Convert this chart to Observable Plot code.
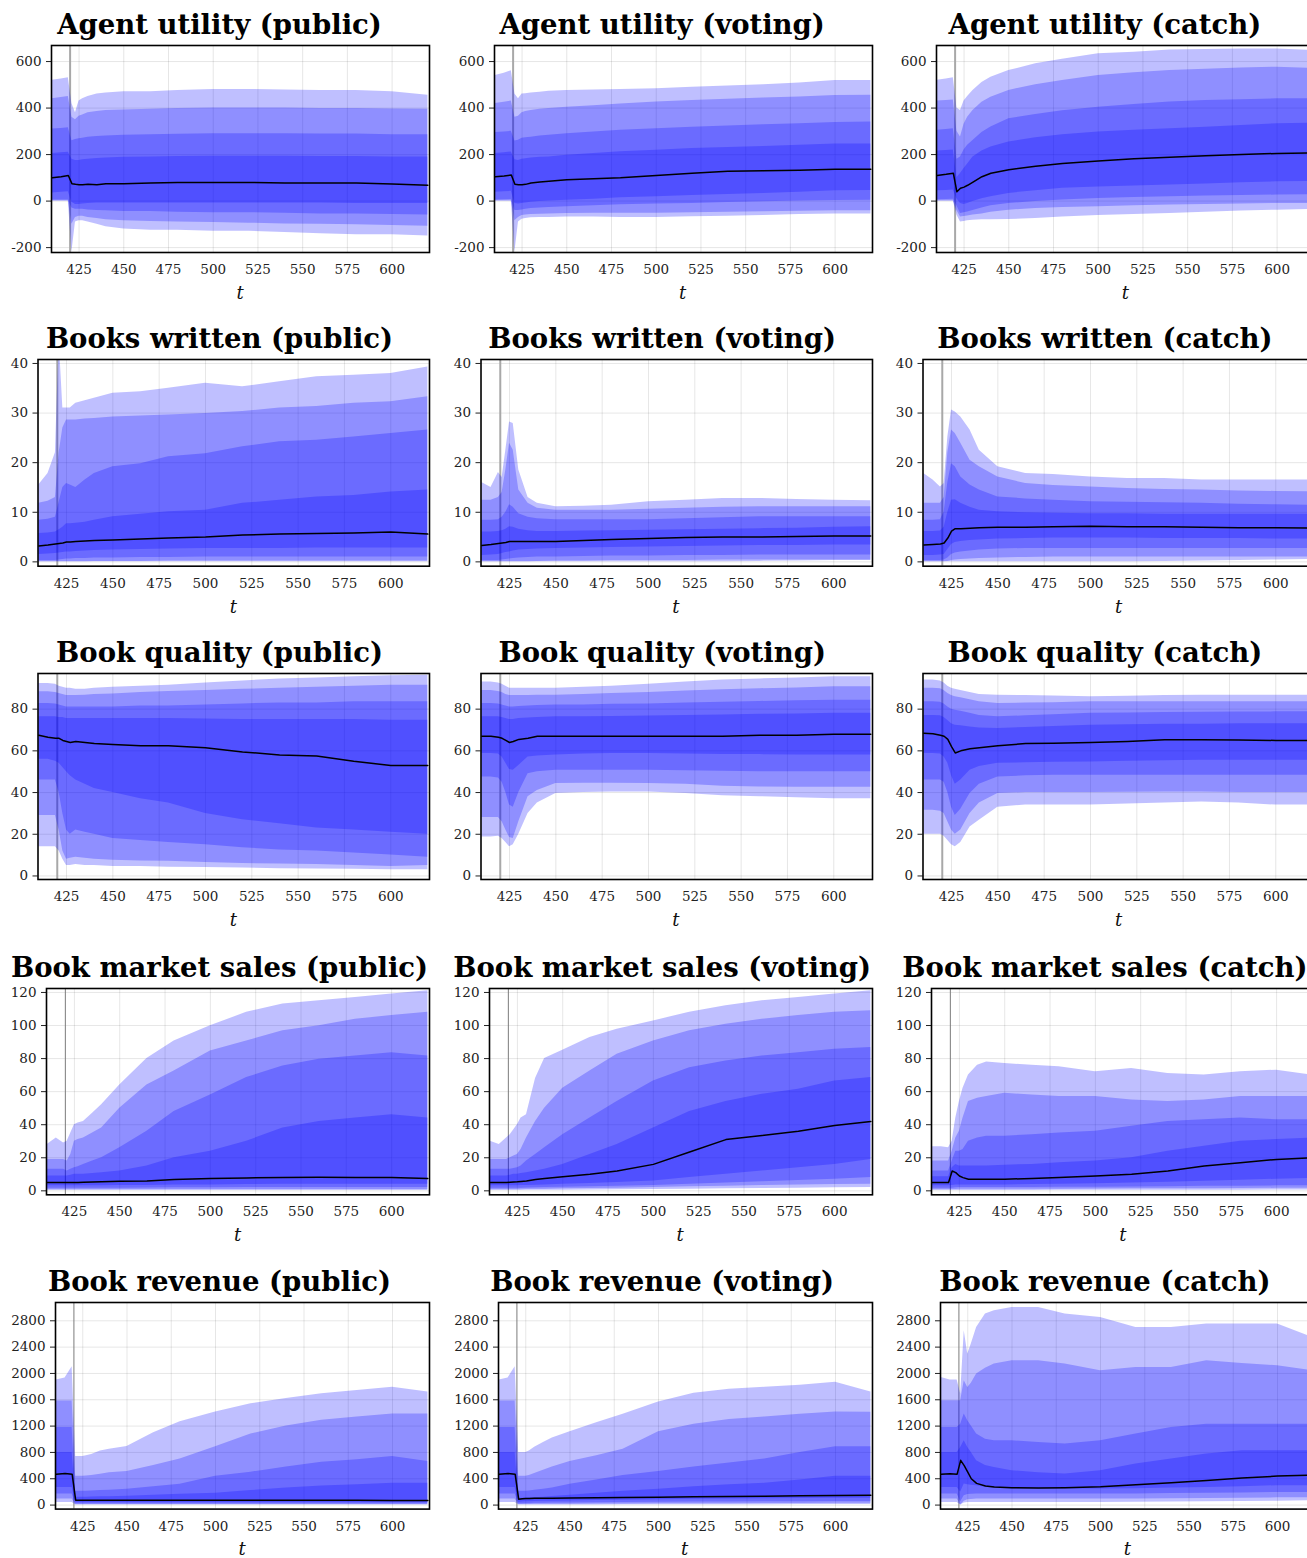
<!DOCTYPE html>
<html><head><meta charset="utf-8">
<script src="https://cdn.jsdelivr.net/npm/d3@7"></script>
<script src="https://cdn.jsdelivr.net/npm/@observablehq/plot@0.6"></script>
<style>
html,body{margin:0;padding:0;background:#fff;overflow:hidden;width:1307px;height:1558px;}
#root{position:relative;width:1307px;height:1558px;overflow:hidden;}
.title{position:absolute;font-family:"DejaVu Serif",serif;font-weight:bold;font-size:27.5px;text-align:center;white-space:nowrap;line-height:1;color:#000;}
.xlab{position:absolute;font-family:"DejaVu Serif",serif;font-style:italic;font-size:18px;text-align:center;line-height:1;color:#111;}
.panel{position:absolute;width:443px;}
.panel svg{overflow:visible;max-width:none !important;}
</style></head><body><div id="root"></div>
<script>
// time points at which values were read
const T = [410, 415, 419, 421, 423, 425, 427, 430, 435, 440, 450, 465, 480, 500, 520, 540, 560, 580, 600, 620];
const xTicks = [425, 450, 475, 500, 525, 550, 575, 600];
const columnNames = ["public", "voting", "catch"];
const rowNames = ["Agent utility", "Books written", "Book quality", "Book market sales", "Book revenue"];
const yTicksUtility = [-200, 0, 200, 400, 600];
const yTicksBooks = [0, 10, 20, 30, 40];
const yTicksQuality = [0, 20, 40, 60, 80];
const yTicksSales = [0, 20, 40, 60, 80, 100, 120];
const yTicksRevenue = [0, 400, 800, 1200, 1600, 2000, 2400, 2800];

// each panel: [lo1, lo2, lo3, lo4, median, hi4, hi3, hi2, hi1]
const utilityPublic = [
  [0, 0, 0, -220, -90, -85, -85, -90, -100, -110, -120, -125, -125, -130, -130, -135, -140, -145, -145, -150],
  [0, 0, 0, -100, -70, -65, -65, -70, -75, -80, -85, -88, -90, -92, -95, -98, -100, -102, -105, -108],
  [5, 5, 5, -30, -35, -35, -35, -38, -40, -42, -45, -45, -48, -50, -50, -52, -55, -55, -58, -60],
  [35, 38, 40, -5, -15, -15, -12, -10, -8, -8, -8, -8, -8, -8, -8, -8, -8, -10, -10, -10],
  [100, 105, 110, 75, 72, 70, 70, 72, 70, 75, 75, 78, 80, 80, 80, 78, 78, 78, 73, 68],
  [205, 208, 210, 180, 175, 175, 178, 180, 183, 185, 188, 190, 192, 193, 193, 193, 192, 192, 190, 190],
  [310, 312, 315, 260, 265, 268, 270, 275, 278, 280, 283, 285, 287, 290, 290, 290, 288, 288, 285, 285],
  [440, 445, 450, 360, 350, 365, 370, 380, 385, 390, 392, 395, 398, 400, 400, 400, 398, 398, 396, 395],
  [520, 525, 530, 420, 380, 430, 440, 450, 460, 465, 470, 470, 475, 480, 480, 478, 475, 475, 470, 455]
];
const utilityVoting = [
  [0, 0, 0, -220, -90, -78, -75, -72, -70, -70, -68, -68, -70, -70, -67, -65, -62, -58, -55, -55],
  [0, 0, 0, -85, -70, -62, -60, -58, -57, -55, -53, -52, -52, -52, -50, -48, -46, -44, -42, -42],
  [5, 6, 7, -40, -40, -38, -35, -32, -30, -28, -24, -20, -16, -13, -10, -6, -3, 0, 3, 4],
  [38, 40, 42, -10, -12, -10, -8, -5, -2, 0, 4, 8, 14, 19, 24, 28, 33, 38, 44, 46],
  [105, 108, 112, 72, 70, 70, 72, 78, 82, 85, 92, 96, 100, 110, 120, 128, 130, 133, 137, 137],
  [205, 208, 211, 178, 175, 180, 182, 185, 188, 190, 197, 205, 212, 219, 226, 230, 235, 240, 245, 245],
  [295, 297, 300, 258, 262, 270, 272, 275, 280, 283, 290, 297, 305, 311, 318, 323, 328, 333, 338, 340],
  [420, 425, 430, 360, 365, 380, 385, 390, 395, 398, 404, 410, 418, 426, 432, 438, 443, 448, 454, 455],
  [540, 550, 560, 460, 440, 460, 462, 465, 468, 472, 476, 478, 480, 483, 490, 495, 500, 508, 518, 518]
];
const utilityCatch = [
  [0, 0, 0, -60, -90, -88, -85, -82, -80, -80, -79, -75, -68, -62, -58, -53, -48, -43, -39, -36],
  [0, 0, 0, -40, -68, -66, -64, -60, -55, -48, -39, -32, -27, -24, -20, -17, -15, -12, -10, -10],
  [6, 7, 8, -20, -53, -50, -47, -40, -30, -20, -10, -2, 5, 11, 15, 19, 22, 24, 26, 27],
  [45, 46, 48, 10, -10, -15, -10, -2, 10, 19, 33, 45, 55, 61, 65, 69, 74, 79, 83, 84],
  [110, 115, 120, 40, 55, 60, 68, 82, 105, 120, 135, 150, 162, 172, 182, 188, 195, 200, 205, 207],
  [215, 218, 220, 100, 119, 140, 160, 190, 215, 233, 254, 272, 285, 297, 305, 311, 318, 325, 333, 335],
  [305, 308, 311, 180, 190, 220, 240, 261, 295, 319, 354, 372, 388, 404, 415, 426, 432, 436, 440, 440],
  [430, 432, 435, 300, 276, 330, 360, 390, 425, 447, 476, 500, 518, 540, 552, 561, 567, 572, 576, 570],
  [520, 525, 530, 400, 390, 430, 450, 476, 510, 533, 561, 590, 610, 633, 640, 650, 652, 654, 654, 647]
];
const booksPublic = [
  [0, 0, 0, 0, 0, 0, 0, 0, 0, 0, 0, 0, 0, 0, 0, 0, 0, 0, 0, 0],
  [0, 0, 0, 0, 0, 0, 0, 0, 0, 0.1, 0.1, 0.1, 0.2, 0.2, 0.2, 0.2, 0.2, 0.2, 0.2, 0.2],
  [0.3, 0.3, 0.3, 0.4, 0.5, 0.6, 0.6, 0.7, 0.7, 0.8, 0.8, 0.9, 0.9, 1.0, 1.0, 1.0, 1.0, 1.0, 1.0, 1.0],
  [1.5, 1.6, 1.7, 1.8, 1.9, 2.0, 2.0, 2.1, 2.2, 2.3, 2.4, 2.5, 2.6, 2.7, 2.7, 2.7, 2.8, 2.8, 2.8, 2.8],
  [3.2, 3.4, 3.6, 3.7, 3.8, 4.0, 4.0, 4.1, 4.2, 4.3, 4.4, 4.6, 4.8, 5.0, 5.4, 5.6, 5.7, 5.8, 6.0, 5.6],
  [5.7, 5.8, 6.0, 6.5, 7.0, 7.7, 7.7, 7.8, 8.0, 8.4, 9.1, 9.6, 10.1, 10.4, 11.8, 12.4, 13.1, 13.4, 14.1, 14.5],
  [8.4, 8.6, 9.0, 12, 15, 15.8, 15.5, 15, 16.5, 17.8, 19.2, 19.8, 21.2, 21.8, 23.2, 24.2, 24.5, 25.2, 25.9, 26.6],
  [11.8, 12.2, 13, 22, 27, 28.6, 28.6, 28.6, 28.8, 28.9, 29.2, 29.4, 29.6, 29.9, 30.3, 31, 31.3, 32, 32.3, 33.3],
  [15.5, 17.8, 22, 45, 31, 31, 31, 32, 32.5, 33, 34, 34.3, 35, 36, 35.3, 36.3, 37.3, 37.6, 38, 39.3]
];
const booksVoting = [
  [0, 0, 0, 0, 0, 0, 0, 0, 0, 0, 0, 0, 0, 0, 0, 0, 0.1, 0.2, 0.3, 0.3],
  [0, 0, 0, 0, 0, 0, 0, 0, 0, 0.1, 0.2, 0.2, 0.3, 0.3, 0.3, 0.4, 0.4, 0.4, 0.4, 0.4],
  [0.3, 0.3, 0.3, 0.4, 0.5, 0.6, 0.7, 0.8, 0.9, 1.0, 1.0, 1.1, 1.2, 1.2, 1.3, 1.3, 1.4, 1.4, 1.4, 1.4],
  [1.3, 1.4, 1.5, 1.7, 1.9, 2.0, 2.2, 2.4, 2.5, 2.6, 2.7, 2.8, 2.9, 3.0, 3.1, 3.2, 3.3, 3.3, 3.4, 3.4],
  [3.3, 3.5, 3.7, 3.8, 3.9, 4.1, 4.1, 4.1, 4.1, 4.1, 4.1, 4.3, 4.5, 4.7, 4.9, 5.0, 5.0, 5.1, 5.2, 5.2],
  [6.0, 6.0, 6.1, 6.3, 6.6, 7.1, 7.0, 6.6, 6.3, 6.1, 6.1, 6.2, 6.3, 6.4, 6.5, 6.6, 6.7, 6.8, 7.0, 7.1],
  [8.4, 8.4, 8.5, 9.0, 10, 11.5, 11, 9.7, 9.0, 8.7, 8.5, 8.5, 8.5, 8.5, 8.7, 8.9, 9.1, 9.1, 9.1, 9.1],
  [12.4, 12.4, 13, 14, 18.5, 23.9, 22.5, 14.5, 11.8, 10.8, 10.4, 10.4, 10.4, 10.6, 10.8, 11, 11.1, 11.1, 11.1, 11.1],
  [16, 15, 18, 17, 22.5, 28.2, 27.9, 18.5, 13, 11.8, 11.1, 11.2, 11.4, 12.1, 12.4, 12.8, 12.8, 12.6, 12.4, 12.3]
];
const booksCatch = [
  [0, 0, 0, 0, 0, 0, 0, 0, 0, 0, 0, 0, 0, 0, 0, 0.1, 0.2, 0.3, 0.4, 0.5],
  [0, 0, 0, 0, 0.1, 0.3, 0.4, 0.5, 0.6, 0.7, 0.8, 0.9, 1.0, 1.0, 1.0, 1.0, 1.0, 1.0, 1.0, 1.0],
  [0.3, 0.3, 0.3, 0.4, 0.8, 1.5, 1.8, 2.0, 2.2, 2.4, 2.6, 2.7, 2.7, 2.7, 2.7, 2.7, 2.7, 2.7, 2.7, 2.7],
  [1.3, 1.3, 1.4, 1.5, 2.5, 3.5, 3.9, 4.1, 4.3, 4.4, 4.6, 4.7, 4.8, 4.8, 4.8, 4.7, 4.7, 4.7, 4.6, 4.6],
  [3.4, 3.5, 3.6, 3.8, 4.8, 6.2, 6.7, 6.7, 6.8, 6.9, 7.0, 7.0, 7.1, 7.2, 7.1, 7.1, 7.0, 6.9, 6.9, 6.8],
  [6.1, 6.1, 6.2, 7, 10, 12.4, 12.5, 11.8, 11, 10.4, 10.1, 9.9, 9.8, 9.7, 9.7, 9.6, 9.6, 9.6, 9.6, 9.6],
  [8.4, 8.4, 8.5, 10, 16, 19.8, 19.2, 17.1, 15.5, 14.5, 13.1, 12.7, 12.4, 12.1, 12, 11.9, 11.8, 11.6, 11.5, 11.4],
  [11.8, 11.8, 11.8, 13, 22, 26.6, 25.9, 23.9, 20.5, 19.2, 17.1, 15.8, 15.4, 15.1, 14.8, 14.6, 14.5, 14.3, 14.2, 14.1],
  [17.8, 16.5, 15.1, 15.8, 25.2, 30.6, 30.2, 29.2, 26.6, 22.5, 19.2, 17.8, 17.6, 17.1, 16.8, 16.8, 16.5, 16.5, 16.5, 16.5]
];
const qualityPublic = [
  [14, 14, 14, 12, 8, 5, 5, 5.5, 5, 5, 4.5, 4.5, 4.2, 4, 3.8, 3.5, 3.3, 3.2, 3, 3],
  [29, 29, 29, 22, 12, 8, 8.5, 9, 8.5, 8, 7.5, 7.2, 7, 6.5, 6, 5.7, 5.5, 5, 4.5, 5],
  [46, 46, 46, 40, 30, 22, 20, 22, 21, 20, 18, 17, 16, 15, 13.5, 12.5, 12, 11, 10, 9],
  [56, 56, 55, 54, 52, 50, 48, 46, 44, 42, 40, 37, 35, 30, 27, 25, 23, 22, 21, 20],
  [67.5, 66.5, 66, 66, 65, 64.5, 64, 64.5, 64, 63.5, 63, 62.5, 62.5, 61.5, 59.5, 58, 57.5, 55, 53, 53],
  [76.3, 76.3, 76.3, 76, 76, 75.5, 75.5, 75.5, 75.5, 75.5, 75.5, 75.5, 75.5, 75.3, 75, 75, 75, 75, 74.7, 74.7],
  [82.7, 82.7, 82.5, 82, 81.5, 81, 81, 81, 81, 81, 81, 81.5, 81.5, 82, 82.5, 83, 83, 83.5, 83.5, 83.5],
  [88.3, 88.3, 88, 87.5, 87, 86.5, 86.5, 86.5, 86.7, 87, 87.3, 88, 88.5, 89, 89.5, 90, 90.5, 91, 91.5, 91.5],
  [92.3, 92.3, 92, 91, 90.5, 90, 90, 89.5, 89.5, 90, 90.5, 91, 91.5, 92.5, 93.5, 94.5, 95, 95.5, 96, 96.3]
];
const qualityVoting = [
  [18.7, 18.7, 19, 18, 16, 14, 15, 20, 30, 35, 39.5, 40, 40.3, 40.3, 39.5, 38.5, 38, 37.5, 37, 37],
  [28, 28, 28, 26, 22, 18.5, 18, 26, 38, 41, 44.3, 44.5, 44.5, 44.3, 44, 43, 42.7, 42.5, 42.5, 42.5],
  [47.5, 47.5, 47, 45, 40, 34, 33, 40, 49, 50, 50.7, 50.7, 50.7, 50.7, 50.5, 50.2, 50, 50, 50, 50],
  [58.7, 58.7, 58.5, 57, 54, 51, 50.7, 53, 57, 57.5, 58, 58.5, 58.7, 58.7, 58.5, 58.3, 58.2, 58, 58, 58],
  [67, 67, 66.5, 66, 65, 64, 64.5, 65.5, 66, 67, 67, 67, 67, 67, 67, 67, 67.5, 67.5, 68, 68],
  [76.3, 76.3, 76.3, 76, 75.5, 75, 75, 75.5, 75.8, 76, 76.3, 76.3, 76.5, 76.7, 77, 77.2, 77.5, 77.7, 78, 78],
  [82.7, 82.7, 82.5, 82, 81.5, 81, 81, 81.3, 81.5, 81.7, 82, 82, 82.3, 82.5, 83, 83.3, 83.7, 84, 84.3, 84.3],
  [89, 89, 88.5, 88, 87, 86.5, 86.5, 86.5, 86.5, 86.7, 86.7, 87, 87.5, 88, 88.7, 89.3, 89.8, 90.2, 90.7, 90.7],
  [93, 93, 92.5, 92, 91, 90, 90, 90, 90, 90, 90, 90.5, 91, 92, 93, 94, 94.5, 95, 95.5, 95.5]
];
const qualityCatch = [
  [20, 20, 20, 19, 17, 15, 14, 16, 23.5, 26.7, 33, 34, 34, 34, 34.5, 35, 35.5, 35, 34, 34],
  [31.5, 31.5, 31, 30, 26, 22, 20, 22, 30, 35, 39.5, 40, 40, 40, 40.2, 40.3, 40.3, 40, 40, 40],
  [46, 46, 46, 45, 40, 33, 29, 32, 39.5, 44, 47.5, 48, 48.3, 48.3, 48.3, 48.3, 48.3, 48.3, 48.3, 48.3],
  [58.7, 58.7, 58.5, 57, 54, 48, 44, 46, 50.7, 52.5, 54, 54.3, 54.5, 54.7, 55, 55.3, 55.5, 55.5, 55.5, 55.5],
  [68.5, 68.2, 67.5, 67, 65.5, 62, 59, 60, 61, 61.5, 62.5, 63.5, 63.7, 64, 64.5, 65.3, 65.3, 65.2, 65, 65],
  [77, 77, 76.8, 76, 74.5, 73, 72.3, 72, 71.5, 71, 70.7, 71.2, 71.7, 72.3, 72.5, 72.7, 72.8, 73, 73, 73],
  [83.5, 83.5, 83.3, 82.5, 81, 80, 79.5, 79, 78, 77, 76.3, 76.8, 77.3, 78, 78.2, 78.4, 78.5, 78.6, 78.7, 78.7],
  [90, 90, 89.8, 89, 87.5, 86.5, 86, 85.5, 84.5, 83.5, 82.7, 82.9, 83.1, 83.5, 83.5, 83.5, 83.5, 83.5, 83.5, 83.5],
  [94, 94, 93.5, 92.5, 91, 90, 89.5, 89, 88, 87, 86.7, 86.5, 86.3, 86, 86.2, 86.5, 86.7, 86.7, 86.7, 86.7]
];
const salesPublic = [
  [0.2, 0.2, 0.2, 0.2, 0.2, 0.2, 0.2, 0.2, 0.2, 0.2, 0.2, 0.2, 0.2, 0.2, 0.2, 0.2, 0.2, 0.2, 0.2, 0.2],
  [0.8, 0.8, 0.8, 0.8, 0.8, 0.8, 0.8, 0.8, 0.8, 0.8, 0.8, 0.8, 0.8, 0.8, 0.8, 0.8, 0.8, 0.8, 0.8, 0.8],
  [1.5, 1.5, 1.5, 1.5, 1.5, 1.5, 1.5, 1.5, 1.5, 1.5, 1.6, 1.7, 1.8, 1.9, 2, 2, 2, 2, 2, 2],
  [3, 3, 3, 3, 3, 3, 3, 3, 3, 3, 3.2, 3.3, 3.5, 3.6, 3.8, 4, 4, 4, 4, 4],
  [5, 5, 5, 5, 5, 5, 5.1, 5.2, 5.3, 5.5, 5.8, 6, 6.8, 7.5, 7.8, 8, 8.2, 8, 8, 7.5],
  [9, 9, 9, 9, 9.5, 10, 10, 10, 10.5, 11, 12, 15, 20, 24, 30, 38, 42, 44, 46, 44],
  [13, 13, 13, 12, 13, 14, 14.5, 16, 18, 20, 26, 36, 48, 58, 68.5, 75.5, 79.6, 81.6, 83.6, 81.6],
  [19, 19, 19, 18, 22, 30, 31, 32, 35, 38, 50, 64, 72.5, 84.6, 90.7, 96.8, 99.8, 103.8, 106, 108],
  [28, 32, 29, 30, 35, 40, 41, 42, 47, 52, 64, 80, 90.7, 99.8, 108, 113, 115, 117, 119, 121]
];
const salesVoting = [
  [0.2, 0.2, 0.2, 0.2, 0.2, 0.2, 0.2, 0.3, 0.3, 0.3, 0.4, 0.5, 0.6, 0.8, 1.0, 1.2, 1.4, 1.6, 1.8, 2],
  [0.8, 0.8, 0.8, 0.8, 0.8, 0.8, 0.9, 0.9, 1, 1, 1.2, 1.4, 1.6, 2, 2.4, 2.8, 3.2, 3.5, 3.8, 4],
  [1.5, 1.5, 1.5, 1.5, 1.5, 1.6, 1.6, 1.7, 1.8, 2, 2.2, 2.5, 2.8, 3.2, 4, 4.8, 5.5, 6.2, 7, 8],
  [3, 3, 3, 3, 3, 3.1, 3.2, 3.3, 3.4, 3.5, 4, 4.5, 5, 6, 8, 10, 12, 14, 16, 19],
  [5, 5, 5, 5.2, 5.4, 5.5, 5.7, 6, 6.8, 7.5, 8.5, 10, 12, 16, 23.5, 31, 33.5, 36, 39.5, 42],
  [9, 9, 9, 9.5, 10, 10, 10.5, 11, 12, 13, 16, 22, 28, 38, 48, 54, 58.4, 61.4, 66.5, 68.5],
  [13, 13, 13, 13, 13.5, 14, 15, 18, 22, 26, 34, 44, 54, 66.5, 74.5, 78.6, 81.6, 83.6, 85.7, 86.7],
  [19, 19, 19, 20, 21, 22, 25, 32, 42, 50, 62, 72.5, 82.6, 90.7, 96.8, 100.8, 103.8, 106, 108, 109],
  [30, 28, 32, 34, 37, 40, 44, 46, 68, 80, 85, 92.7, 97.8, 102.8, 108, 112, 115, 117, 119, 121]
];
const salesCatch = [
  [0.2, 0.2, 0.2, 0.2, 0.2, 0.2, 0.2, 0.2, 0.2, 0.2, 0.2, 0.2, 0.3, 0.3, 0.3, 0.4, 0.4, 0.4, 0.5, 0.5],
  [0.8, 0.8, 0.8, 0.8, 0.8, 0.9, 0.9, 0.9, 0.9, 0.9, 1, 1, 1, 1.1, 1.2, 1.2, 1.3, 1.4, 1.5, 1.5],
  [1.5, 1.5, 1.5, 1.6, 1.8, 2, 2, 2, 2, 2, 2, 2, 2.1, 2.2, 2.3, 2.5, 2.7, 2.8, 3, 3],
  [3, 3, 3, 3.2, 3.5, 3.5, 3.5, 3.5, 3.5, 3.5, 3.6, 3.8, 4, 4.3, 4.7, 5.2, 5.8, 6.4, 7, 7.5],
  [5, 5, 5, 12, 11, 9, 8, 7, 7, 7, 7, 7.5, 8, 9, 10, 12, 15, 17, 19, 20],
  [8.5, 8.5, 8.5, 14, 16, 15, 15, 15, 15, 15, 15.5, 16, 17, 18, 20, 24, 27, 30, 31, 32],
  [12, 12, 12, 18, 24, 24, 25, 30, 32, 33, 33, 34, 35, 36, 39, 42, 43, 44, 43, 43],
  [18, 18, 18, 24, 32, 36, 44, 54, 56, 57, 59, 58, 57, 57, 55, 54, 55, 57, 57, 57],
  [26.6, 26.6, 26, 30, 44, 54, 62, 70, 76, 78, 77, 76, 75, 72, 74, 71, 70, 72, 73, 70]
];
const revenuePublic = [
  [40, 40, 40, 3, 3, 3, 3, 3, 3, 3, 3, 3, 3, 3, 3, 3, 3, 3, 3, 3],
  [91, 91, 91, 10, 10, 10, 10, 10, 10, 10, 10, 10, 10, 10, 10, 10, 10, 10, 10, 10],
  [167, 167, 167, 20, 20, 20, 20, 20, 20, 20, 20, 20, 20, 20, 20, 20, 20, 20, 20, 20],
  [268, 268, 268, 40, 40, 40, 40, 40, 40, 40, 40, 40, 40, 40, 40, 40, 40, 40, 40, 40],
  [470, 480, 470, 75, 75, 75, 75, 75, 75, 75, 75, 75, 75, 75, 75, 75, 75, 72, 70, 70],
  [800, 800, 800, 120, 120, 120, 120, 122, 125, 128, 135, 150, 165, 180, 220, 260, 290, 310, 331, 331],
  [1180, 1180, 1180, 210, 210, 210, 210, 215, 220, 225, 240, 280, 316, 437, 500, 580, 650, 690, 738, 662],
  [1580, 1580, 1580, 437, 437, 437, 440, 450, 470, 490, 512, 600, 700, 888, 1080, 1200, 1290, 1340, 1385, 1385],
  [1900, 1930, 2100, 740, 740, 740, 750, 770, 820, 850, 890, 1100, 1265, 1415, 1540, 1620, 1690, 1740, 1790, 1717]
];
const revenueVoting = [
  [40, 40, 40, 3, 3, 3, 3, 3, 3, 3, 3, 3, 4, 5, 5, 6, 6, 7, 7, 8],
  [91, 91, 91, 10, 10, 10, 10, 11, 12, 13, 14, 15, 17, 19, 20, 22, 24, 25, 26, 27],
  [167, 167, 167, 20, 22, 24, 25, 27, 28, 30, 32, 35, 38, 42, 45, 48, 50, 52, 55, 56],
  [268, 268, 268, 40, 45, 50, 52, 55, 57, 58, 62, 68, 72, 80, 88, 92, 96, 100, 103, 105],
  [470, 480, 470, 90, 95, 100, 100, 102, 103, 105, 108, 110, 115, 120, 125, 130, 135, 140, 145, 150],
  [800, 800, 800, 105, 105, 105, 108, 112, 120, 130, 150, 180, 210, 240, 280, 310, 331, 380, 437, 437],
  [1180, 1180, 1180, 210, 210, 210, 215, 225, 240, 260, 316, 380, 450, 512, 580, 640, 700, 800, 888, 888],
  [1580, 1580, 1580, 437, 437, 437, 450, 480, 530, 580, 662, 750, 850, 1114, 1230, 1300, 1340, 1380, 1415, 1412],
  [1900, 1930, 2100, 800, 800, 800, 820, 880, 950, 1020, 1114, 1250, 1380, 1566, 1700, 1760, 1790, 1820, 1867, 1717]
];
const revenueCatch = [
  [40, 40, 40, 0, 30, 40, 40, 40, 40, 40, 40, 40, 40, 40, 42, 45, 50, 55, 60, 66],
  [91, 91, 91, 0, 60, 80, 85, 91, 91, 91, 91, 91, 91, 91, 91, 95, 100, 105, 110, 110],
  [167, 167, 167, 50, 140, 160, 165, 167, 167, 167, 167, 167, 167, 167, 170, 175, 180, 185, 192, 192],
  [268, 268, 268, 200, 319, 310, 300, 294, 270, 260, 243, 243, 243, 243, 250, 260, 268, 280, 294, 294],
  [470, 475, 470, 680, 600, 500, 400, 330, 290, 275, 265, 260, 265, 280, 310, 340, 375, 410, 440, 455],
  [800, 800, 800, 876, 977, 876, 800, 674, 600, 572, 522, 490, 471, 522, 623, 699, 775, 825, 825, 825],
  [1180, 1180, 1180, 1230, 1382, 1281, 1200, 1079, 1000, 977, 977, 950, 927, 977, 1079, 1180, 1230, 1230, 1230, 1230],
  [1584, 1584, 1584, 1585, 1889, 1788, 1850, 1990, 2080, 2142, 2193, 2193, 2142, 2041, 2091, 2091, 2193, 2150, 2117, 2041],
  [1938, 1900, 1900, 1686, 2648, 2294, 2446, 2700, 2902, 2952, 3003, 3003, 2902, 2851, 2700, 2700, 2750, 2750, 2750, 2547]
];

const panels = [
  [utilityPublic, utilityVoting, utilityCatch],
  [booksPublic, booksVoting, booksCatch],
  [qualityPublic, qualityVoting, qualityCatch],
  [salesPublic, salesVoting, salesCatch],
  [revenuePublic, revenueVoting, revenueCatch]
];
const rowY = [
  {domain: [-221, 669], ticks: yTicksUtility},
  {domain: [-0.87, 40.8], ticks: yTicksBooks},
  {domain: [-1.7, 97.1], ticks: yTicksQuality},
  {domain: [-2.4, 122.4], ticks: yTicksSales},
  {domain: [-61, 3078], ticks: yTicksRevenue}
];

// layout (pixels)
const colOffset = [0, 442.7, 885.4];
const panelW = 443;
const frameTop = [45, 359.3, 673.3, 987.7, 1301.7];
const frameH = [207, 206.7, 206, 206.3, 206.6];
const marginL = [51, 37.5, 37.5, 46, 55];
const marginR = 14;
const mTop = 10, mBottom = 50;

const root = document.getElementById("root");

for (let r = 0; r < 5; r++) {
  for (let c = 0; c < 3; c++) {
    const q = panels[r][c];
    const rows = T.map((t, j) => ({t, l1: q[0][j], l2: q[1][j], l3: q[2][j], l4: q[3][j], m: q[4][j], u4: q[5][j], u3: q[6][j], u2: q[7][j], u1: q[8][j]}));
    const ruleStyle = r < 3 ? {stroke: "#a8a8a8", strokeWidth: 2} : {stroke: "#7a7a7a", strokeWidth: 1};
    const band = (lo, hi) => Plot.areaY(rows, {x: "t", y1: lo, y2: hi, fill: "#0000ff", fillOpacity: 0.25, clip: true});
    const plot = Plot.plot({
      width: panelW,
      height: mTop + frameH[r] + mBottom,
      marginLeft: marginL[r], marginRight: marginR, marginTop: mTop, marginBottom: mBottom,
      style: {fontFamily: "'DejaVu Serif', serif", fontSize: "13.5px", color: "#222", background: "transparent", maxWidth: "none"},
      x: {domain: [409.6, 620.9], ticks: xTicks, tickSize: 0, tickPadding: 12, label: null},
      y: {domain: rowY[r].domain, ticks: rowY[r].ticks, tickSize: 5, tickPadding: 5, label: null, tickFormat: d => String(d)},
      marks: [
        Plot.gridX(xTicks, {stroke: "#000", strokeOpacity: 0.1, strokeWidth: 1}),
        Plot.gridY(rowY[r].ticks, {stroke: "#000", strokeOpacity: 0.1, strokeWidth: 1}),
        Plot.ruleX([420], {...ruleStyle}),
        band("l1", "u1"),
        band("l2", "u2"),
        band("l3", "u3"),
        band("l4", "u4"),
        Plot.lineY(rows, {x: "t", y: "m", stroke: "#000", strokeWidth: 1.5, clip: true}),
        Plot.frame({stroke: "#000", strokeWidth: 1.6})
      ]
    });
    plot.style.maxWidth = "none";
    plot.style.width = panelW + "px";
    const holder = document.createElement("div");
    holder.className = "panel";
    holder.style.left = colOffset[c] + "px";
    holder.style.top = (frameTop[r] - mTop) + "px";
    holder.appendChild(plot);
    root.appendChild(holder);

    const title = document.createElement("div");
    title.className = "title";
    title.textContent = rowNames[r] + " (" + columnNames[c] + ")";
    title.style.left = (colOffset[c] - 20) + "px";
    title.style.width = "479px";
    title.style.top = (frameTop[r] - 11 - 23) + "px";
    root.appendChild(title);

    const xl = document.createElement("div");
    xl.className = "xlab";
    xl.textContent = "t";
    const fl = colOffset[c] + marginL[r], fr = colOffset[c] + panelW - marginR;
    xl.style.left = fl + "px";
    xl.style.width = (fr - fl) + "px";
    xl.style.top = (frameTop[r] + frameH[r] + 42 - 10) + "px";
    root.appendChild(xl);
  }
}
</script></body></html>
